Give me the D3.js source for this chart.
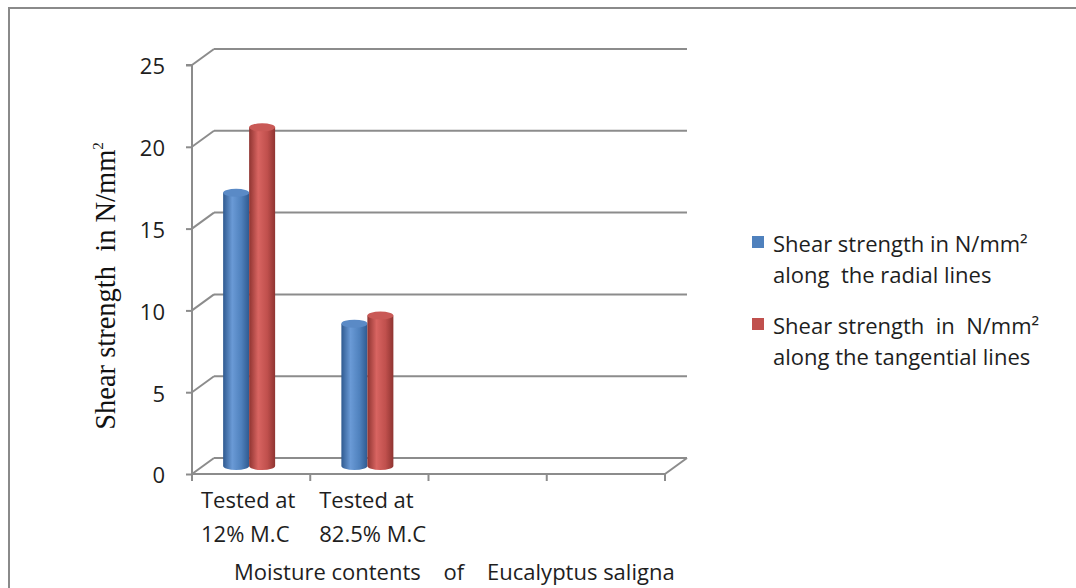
<!DOCTYPE html>
<html>
<head>
<meta charset="utf-8">
<script src="https://cdn.jsdelivr.net/npm/d3@7"></script>
<style>
  html, body { margin: 0; padding: 0; background: #fff; }
  svg { display: block; }
  text { white-space: pre; }
</style>
</head>
<body>
<svg id="chart" width="1076" height="588"></svg>
<script>
// Shear strength of Eucalyptus saligna at two moisture contents
const categories = ["Tested at\n12% M.C", "Tested at\n82.5% M.C", "", ""];
const seriesNames = [
  ["Shear strength in N/mm\u00B2", "along  the radial lines"],
  ["Shear strength  in  N/mm\u00B2", "along the tangential lines"]
];
const radialValues = [16.7, 8.7];
const tangentialValues = [20.7, 9.2];
const yTicks = [0, 5, 10, 15, 20, 25];

const seriesValues = [radialValues, tangentialValues];
const colors = [
  { base: "#4f81bd", dark: "#2f5a90", light: "#6a9ad6", top: "#5a8ac6" },
  { base: "#c0504d", dark: "#8f3431", light: "#d86461", top: "#c95956" }
];

const svg = d3.select("#chart");
const FONT = "'Open Sans', Lato, sans-serif";
const FS = 22;
const GRID = "#8c8c8c";
const INK = "#1e1e1e";

// outer chart border
svg.append("rect")
  .attr("x", 9).attr("y", 8).attr("width", 1100).attr("height", 620)
  .attr("fill", "none").attr("stroke", "#8a8a8a").attr("stroke-width", 2);

// front plane scales plus a fixed depth offset for the 3D walls
const x = d3.scaleBand(d3.range(categories.length), [192, 665]);
const y = d3.scaleLinear([0, 25], [474, 65]);
const depth = { dx: 22, dy: -16 };

const g = svg.append("g");

// back wall gridlines and the side-wall diagonals
yTicks.forEach(t => {
  g.append("line")
    .attr("x1", x.range()[0] + depth.dx).attr("x2", x.range()[1] + depth.dx)
    .attr("y1", y(t) + depth.dy).attr("y2", y(t) + depth.dy)
    .attr("stroke", GRID).attr("stroke-width", 2);
  g.append("line")
    .attr("x1", x.range()[0]).attr("x2", x.range()[0] + depth.dx)
    .attr("y1", y(t)).attr("y2", y(t) + depth.dy)
    .attr("stroke", GRID).attr("stroke-width", 2);
});

// floor front edge and right diagonal
g.append("line")
  .attr("x1", x.range()[0]).attr("x2", x.range()[1])
  .attr("y1", y(0)).attr("y2", y(0))
  .attr("stroke", GRID).attr("stroke-width", 2);
g.append("line")
  .attr("x1", x.range()[1]).attr("x2", x.range()[1] + depth.dx)
  .attr("y1", y(0)).attr("y2", y(0) + depth.dy)
  .attr("stroke", GRID).attr("stroke-width", 2);

// vertical axis with ticks
const yAxis = d3.axisLeft(y).tickValues(yTicks).tickSize(6).tickPadding(21);
const yAxisG = svg.append("g").attr("transform", `translate(${x.range()[0]},0)`).call(yAxis);
yAxisG.select(".domain").attr("stroke", GRID).attr("stroke-width", 2)
  .attr("d", `M-6,${y(25)}H0V${y(0) + 7}`);
yAxisG.selectAll(".tick line").attr("stroke", GRID).attr("stroke-width", 2);
yAxisG.selectAll(".tick text")
  .attr("font-family", FONT).attr("font-size", FS).attr("fill", INK)
  .attr("dy", "0.4em");

// category ticks along the floor
const xTickPos = x.domain().map(d => x(d)).concat([x.range()[1]]);
xTickPos.forEach(px => {
  svg.append("line")
    .attr("x1", px).attr("x2", px).attr("y1", y(0)).attr("y2", y(0) + 7)
    .attr("stroke", GRID).attr("stroke-width", 2);
});

// category labels
categories.forEach((c, i) => {
  if (!c) return;
  const lines = c.split("\n");
  const t = svg.append("text")
    .attr("font-family", FONT).attr("font-size", FS).attr("fill", INK);
  lines.forEach((ln, k) => {
    t.append("tspan").attr("x", x(i) + 9).attr("y", 508 + k * 34).text(ln);
  });
});

// gradients for cylinder shading
const defs = svg.append("defs");
colors.forEach((c, i) => {
  const grad = defs.append("linearGradient").attr("id", "cyl" + i)
    .attr("x1", "0%").attr("x2", "100%").attr("y1", "0%").attr("y2", "0%");
  grad.append("stop").attr("offset", "0%").attr("stop-color", c.dark);
  grad.append("stop").attr("offset", "35%").attr("stop-color", c.light);
  grad.append("stop").attr("offset", "70%").attr("stop-color", c.base);
  grad.append("stop").attr("offset", "100%").attr("stop-color", c.dark);
});

// cylinders, standing halfway back on the floor
const inner = d3.scaleBand(d3.range(seriesValues.length), [0, 52]);
const barW = inner.bandwidth();
const ry = 4;
const baseShift = depth.dy / 2;
seriesValues.forEach((vals, s) => {
  vals.forEach((v, i) => {
    const x0 = x(i) + x.bandwidth() / 2 - 28 + inner(s);
    const yTop = y(v) + baseShift;
    const yBot = y(0) + baseShift;
    const cx = x0 + barW / 2;
    const rx = barW / 2;
    const bar = svg.append("g");
    bar.append("path")
      .attr("d", `M${x0},${yTop}V${yBot}A${rx},${ry} 0 0 0 ${x0 + barW},${yBot}V${yTop}Z`)
      .attr("fill", `url(#cyl${s})`);
    bar.append("ellipse")
      .attr("cx", cx).attr("cy", yTop).attr("rx", rx).attr("ry", ry)
      .attr("fill", colors[s].top);
  });
});

// axis titles
const yTitle = svg.append("text")
  .attr("transform", "translate(115,286) rotate(-90)")
  .attr("text-anchor", "middle")
  .attr("font-family", "'Liberation Serif', 'Times New Roman', serif")
  .attr("font-size", 28.5).attr("fill", "#111");
yTitle.append("tspan").text("Shear strength  in N/mm");
yTitle.append("tspan").attr("font-size", 15).attr("dy", -12).text("2");

svg.append("text")
  .attr("x", 234).attr("y", 580)
  .attr("font-family", FONT).attr("font-size", FS).attr("fill", INK)
  .text("Moisture contents    of    Eucalyptus saligna");

// legend
const legendTop = [236, 318];
seriesNames.forEach((lines, s) => {
  svg.append("rect")
    .attr("x", 752).attr("y", legendTop[s]).attr("width", 12).attr("height", 12)
    .attr("fill", colors[s].base);
  lines.forEach((ln, k) => {
    svg.append("text")
      .attr("x", 773).attr("y", legendTop[s] + 16 + k * 31)
      .attr("font-family", FONT).attr("font-size", FS).attr("fill", INK)
      .text(ln);
  });
});
</script>
</body>
</html>
